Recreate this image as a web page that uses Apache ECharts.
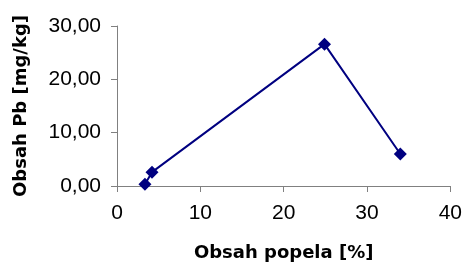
<!DOCTYPE html>
<html>
<head>
<meta charset="utf-8">
<script src="https://cdn.jsdelivr.net/npm/echarts@6/dist/echarts.min.js"></script>
<style>
  html, body { margin: 0; padding: 0; background: #fff; }
  #chart { width: 465px; height: 280px; }
</style>
</head>
<body>
<div id="chart"></div>
<script>
// obsah popela [%] a obsah Pb [mg/kg]
const popel = [3.35, 4.2, 24.9, 34.0];
const olovo = [0.35, 2.6, 26.6, 6.0];

let points = [];
for (let i = 0; i < popel.length; i++) {
    points.push([popel[i], olovo[i]]);
}

const axisCol = '#808080';
const labelFont = { fontFamily: 'Liberation Sans, Arial, sans-serif', fontSize: 21, color: '#000' };
const titleFont = { fontFamily: 'DejaVu Sans, Tahoma, sans-serif', fontSize: 18, fontWeight: 'bold', color: '#000' };

let myChart = echarts.init(document.getElementById('chart'));
myChart.setOption({
    animation: false,
    grid: { left: 117, right: 14, top: 26, bottom: 94 },
    xAxis: {
        type: 'value',
        min: 0, max: 40, interval: 10,
        name: 'Obsah popela [%]',
        nameLocation: 'middle',
        nameGap: 58,
        nameTextStyle: titleFont,
        axisLine: { lineStyle: { color: axisCol, width: 1 } },
        axisTick: { show: true, length: 6, inside: false, lineStyle: { color: axisCol } },
        axisLabel: Object.assign({ margin: 17 }, labelFont),
        splitLine: { show: false }
    },
    yAxis: {
        type: 'value',
        min: 0, max: 30, interval: 10,
        name: 'Obsah Pb [mg/kg]',
        nameLocation: 'middle',
        nameGap: 87,
        nameTextStyle: titleFont,
        axisLine: { show: true, lineStyle: { color: axisCol, width: 1 } },
        axisTick: { show: true, length: 6, inside: false, lineStyle: { color: axisCol } },
        axisLabel: Object.assign({
            margin: 16,
            formatter: function (v) { return v.toFixed(2).replace('.', ','); }
        }, labelFont),
        splitLine: { show: false }
    },
    series: [{
        type: 'line',
        data: points,
        symbol: 'diamond',
        symbolSize: 13,
        lineStyle: { color: '#000080', width: 2 },
        itemStyle: { color: '#000080' }
    }]
});
</script>
</body>
</html>
